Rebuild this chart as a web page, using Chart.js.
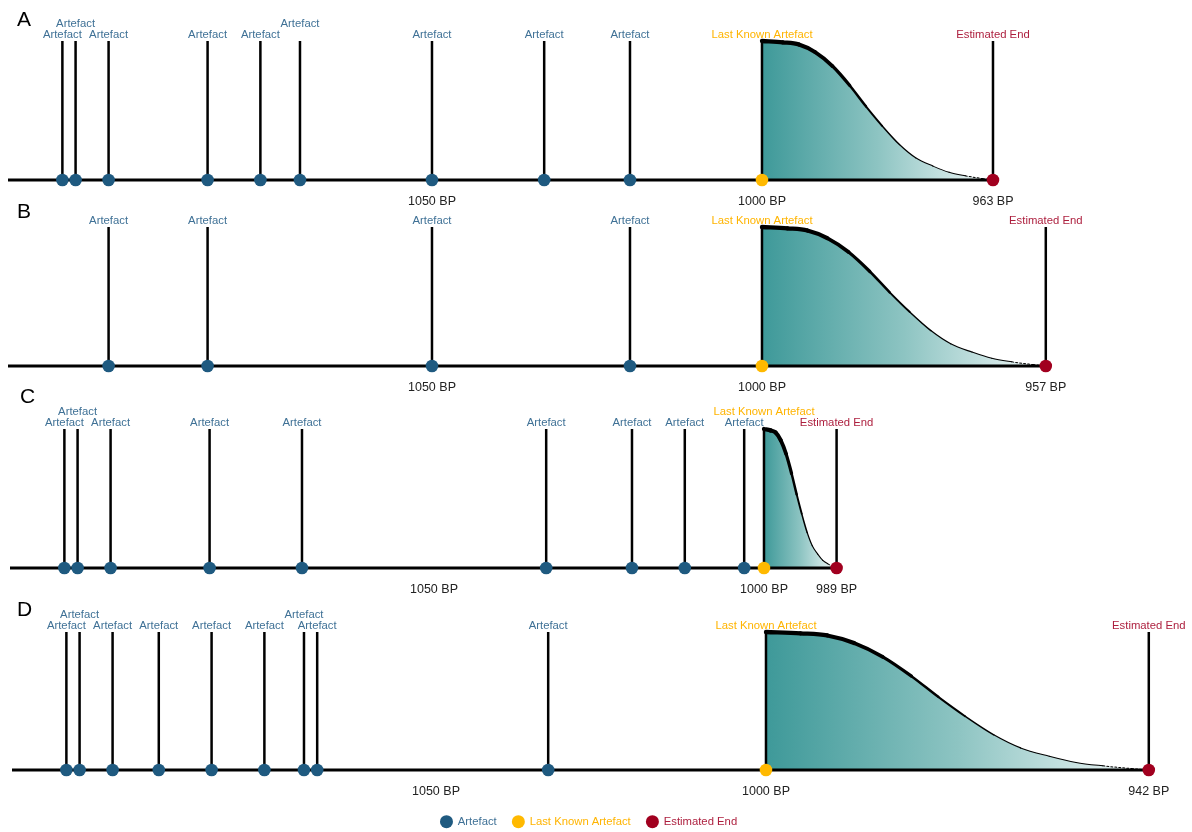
<!DOCTYPE html>
<html><head><meta charset="utf-8">
<script src="https://cdn.jsdelivr.net/npm/chart.js@4.4.1/dist/chart.umd.min.js"></script>
<style>
html,body{margin:0;padding:0;background:#fff;overflow:hidden;width:1192px;height:832px;position:relative}
canvas{position:absolute}
</style></head><body>
<canvas id="c0"></canvas><canvas id="c1"></canvas><canvas id="c2"></canvas><canvas id="c3"></canvas>
<script>
// ---------- data ----------
const panelNames = ['A', 'B', 'C', 'D'];
const artefactsA = [1106, 1104, 1099, 1084, 1076, 1070, 1050, 1033, 1020];
const artefactsB = [1099, 1084, 1050, 1020];
const artefactsC = [1106, 1104, 1099, 1084, 1070, 1033, 1020, 1012, 1003];
const artefactsD = [1106, 1104, 1099, 1092, 1084, 1076, 1070, 1068, 1033];
const lastKnown = [1000, 1000, 1000, 1000];
const estimatedEnd = [965, 957, 989, 942];
const endTickLabels = ['963 BP', '957 BP', '989 BP', '942 BP'];
const axisTicks = [1050, 1000];
const axisTickLabels = ['1050 BP', '1000 BP'];
// decline curve: fraction of the way from last artefact to estimated end, and relative height
const curveFractions = [0, 0.09, 0.16, 0.23, 0.305, 0.38, 0.45, 0.52, 0.595, 0.665, 0.74, 0.81, 0.88, 0.955, 1];
const curveDensity   = [1, 0.99, 0.975, 0.92, 0.82, 0.68, 0.53, 0.39, 0.255, 0.16, 0.10, 0.055, 0.03, 0.01, 0];
const legendLabels = ['Artefact', 'Last Known Artefact', 'Estimated End'];

const artefactSets = [artefactsA, artefactsB, artefactsC, artefactsD];

// ---------- styling / layout ----------
const COL_ART = '#1f5a80', COL_LAST = '#ffb900', COL_END = '#a1001f';
const TXT_ART = '#3f7196', TXT_LAST = '#ffb400', TXT_END = '#ad1f3e';
const SCALE_MIN = 935.15, SCALE_MAX = 1114.24;
const panelLayout = [
  {top: 0,   shift: 0, height: 225, axisH: 42, letterX: 17, letterY: 20},
  {top: 186, shift: 0, height: 225, axisH: 42, letterX: 17, letterY: 26},
  {top: 388, shift: 2, height: 225, axisH: 42, letterX: 20, letterY: 9},
  {top: 591, shift: 4, height: 247, axisH: 30, letterX: 17, letterY: 19}
];
const LEGEND_DX = -14;
Chart.defaults.font.family = 'Arial, "Liberation Sans", sans-serif';

const labelPlugin = {
  id: 'stemLabels',
  afterLayout(chart) {
    if (chart.legend && chart.legend.options.display) {
      chart.legend.left += LEGEND_DX; chart.legend.right += LEGEND_DX;
    }
  },
  afterDatasetsDraw(chart, args, opts) {
    const {ctx, chartArea, scales: {x}} = chart;
    const k = opts.panel;
    const items = [];
    artefactSets[k].forEach(v => items.push({v, t: 'Artefact', c: TXT_ART}));
    items.push({v: lastKnown[k], t: 'Last Known Artefact', c: TXT_LAST});
    items.push({v: estimatedEnd[k], t: 'Estimated End', c: TXT_END});
    ctx.save();
    ctx.font = '11.3px Arial, "Liberation Sans", sans-serif';
    ctx.textAlign = 'center';
    ctx.textBaseline = 'middle';
    items.forEach(it => { it.px = x.getPixelForValue(it.v); it.w = ctx.measureText(it.t).width; });
    items.sort((a, b) => a.px - b.px);
    const rowRight = [];
    items.forEach(it => {
      let r = 0;
      while (rowRight[r] !== undefined && it.px - it.w / 2 < rowRight[r] + 3) r++;
      rowRight[r] = it.px + it.w / 2;
      ctx.fillStyle = it.c;
      ctx.fillText(it.t, it.px, chartArea.top - 6.5 - r * 11);
    });
    const L = panelLayout[k];
    ctx.font = '21px Arial, "Liberation Sans", sans-serif';
    ctx.textAlign = 'left';
    ctx.fillStyle = '#000';
    ctx.fillText(panelNames[k], L.letterX - L.shift, L.letterY);
    ctx.restore();
  }
};

function buildPanel(k) {
  const L = panelLayout[k];
  const cv = document.getElementById('c' + k);
  cv.width = 1192; cv.height = L.height;
  cv.style.left = L.shift + 'px'; cv.style.top = L.top + 'px';
  const arts = artefactSets[k];
  const last = lastKnown[k], end = estimatedEnd[k];
  const stems = [];
  [...arts, last, end].forEach(v => { stems.push({x: v, y: 0}, {x: v, y: 1}, {x: v, y: null}); });
  const curve = curveFractions.map((f, i) => ({x: last + f * (end - last), y: curveDensity[i]}));
  const isLast = k === 3;
  return new Chart(cv, {
    type: 'line',
    data: {
      datasets: [
        {label: 'axis', data: [{x: SCALE_MAX, y: 0}, {x: end, y: 0}], borderColor: '#000', borderWidth: 3,
         pointRadius: 0, order: 1, clip: false},
        {label: 'stems', data: stems, borderColor: '#000', borderWidth: 2.5, pointRadius: 0, spanGaps: false,
         order: 1, clip: false},
        {label: 'curveFill', data: curve, borderWidth: 0, borderColor: 'rgba(0,0,0,0)', pointRadius: 0, order: 4, clip: false,
         cubicInterpolationMode: 'monotone', fill: 'origin',
         backgroundColor: (c) => {
           const ch = c.chart, xs = ch.scales.x;
           if (!ch.chartArea || !xs) return '#7bb';
           const x0 = xs.getPixelForValue(last), x1 = xs.getPixelForValue(end);
           const g = ch.ctx.createLinearGradient(x0, 0, x1, 0);
           g.addColorStop(0, '#3e9999'); g.addColorStop(0.5, '#8dc4c2'); g.addColorStop(1, '#f2f8f8');
           return g;
         }},
        {label: 'curve', data: curve, borderColor: '#000', pointRadius: 0, order: 2, clip: false,
         cubicInterpolationMode: 'monotone', fill: false, borderCapStyle: 'round',
         segment: {
           borderWidth: s => 1 + 3.3 * Math.pow(s.p0.parsed.y, 2),
           borderDash: s => (s.p1.parsed.y < 0.02 ? [2, 2] : undefined)
         }},
        {label: legendLabels[0], data: arts.map(v => ({x: v, y: 0})), showLine: false, pointRadius: 6.3,
         pointBackgroundColor: COL_ART, pointBorderColor: COL_ART, backgroundColor: COL_ART, borderColor: COL_ART,
         pointBorderWidth: 0, order: 0, clip: false},
        {label: legendLabels[1], data: [{x: last, y: 0}], showLine: false, pointRadius: 6.3,
         pointBackgroundColor: COL_LAST, pointBorderColor: COL_LAST, backgroundColor: COL_LAST, borderColor: COL_LAST,
         pointBorderWidth: 0, order: 0, clip: false},
        {label: legendLabels[2], data: [{x: end, y: 0}], showLine: false, pointRadius: 6.3,
         pointBackgroundColor: COL_END, pointBorderColor: COL_END, backgroundColor: COL_END, borderColor: COL_END,
         pointBorderWidth: 0, order: 0, clip: false}
      ]
    },
    options: {
      responsive: false, animation: false, devicePixelRatio: 1,
      layout: {autoPadding: false,
               padding: {top: 41, left: 8, right: 2, bottom: L.height - 180 - L.axisH - (isLast ? 36.3 : 0)}},
      scales: {
        x: {type: 'linear', reverse: true, min: SCALE_MIN, max: SCALE_MAX, offset: false,
            grid: {display: false, drawTicks: false}, border: {display: false},
            afterBuildTicks: s => { s.ticks = [...axisTicks, end].map(v => ({value: v})); },
            afterFit: s => { s.height = L.axisH; s.paddingLeft = 0; s.paddingRight = 0; },
            ticks: {autoSkip: false, maxRotation: 0, padding: 14, color: '#222',
                    font: {size: 12.5},
                    callback: (v, i) => [...axisTickLabels, endTickLabels[k]][i]}},
        y: {display: false, min: 0, max: 1}
      },
      plugins: {
        tooltip: {enabled: false},
        stemLabels: {panel: k},
        legend: {
          display: isLast, position: 'bottom',
          labels: {
            usePointStyle: true, pointStyle: 'circle', boxHeight: 9.2, padding: 16,
            font: {size: 11.3},
            filter: item => legendLabels.includes(item.text),
            generateLabels: ch => {
              const items = Chart.defaults.plugins.legend.labels.generateLabels(ch);
              const cols = {'Artefact': TXT_ART, 'Last Known Artefact': TXT_LAST, 'Estimated End': TXT_END};
              items.forEach(it => { it.fontColor = cols[it.text] || '#000'; it.lineWidth = 0; });
              return items;
            }
          }
        }
      }
    },
    plugins: [labelPlugin]
  });
}
[0, 1, 2, 3].forEach(buildPanel);
</script>
</body></html>
